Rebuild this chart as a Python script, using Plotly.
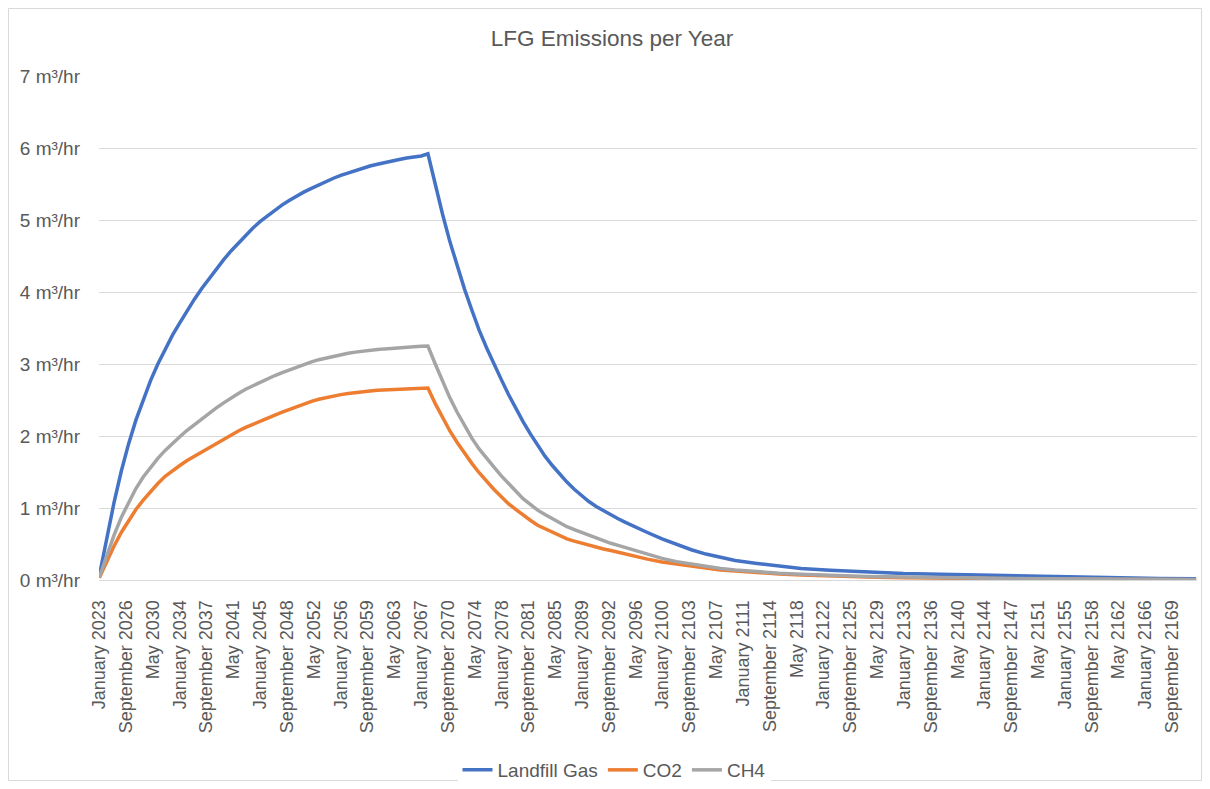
import plotly.graph_objects as go
import pandas as pd

# =============================================================================
# DATA (roughly one point per year)
# =============================================================================

rise_years = [2023, 2024, 2025, 2026, 2027, 2028, 2029, 2030, 2031, 2032,
              2033, 2034, 2035, 2036, 2037, 2038, 2039, 2040, 2041, 2042,
              2043, 2044, 2045, 2046, 2047, 2048, 2049, 2050, 2051, 2052,
              2053, 2054, 2055, 2056, 2057, 2058, 2059, 2060, 2061, 2062,
              2063, 2064, 2065, 2066, 2067]
peak_month = "2067-12"
decay_years = [2068, 2069, 2070, 2071, 2072, 2073, 2074, 2075, 2076, 2077,
               2078, 2079, 2080, 2081, 2082, 2083, 2084, 2085, 2086, 2087,
               2088, 2089, 2090, 2091, 2092, 2093, 2094, 2095,
               2097, 2099, 2101, 2103, 2105, 2107, 2109, 2112, 2115, 2118,
               2122, 2127, 2132, 2137, 2142, 2147, 2152, 2157, 2162, 2167, 2172]

landfill_gas = [0.06, 0.58, 1.07, 1.51, 1.89, 2.22, 2.51, 2.77, 3.00, 3.21,
                3.40, 3.57, 3.74, 3.90, 4.05, 4.19, 4.32, 4.45, 4.57, 4.68,
                4.79, 4.89, 4.98, 5.06, 5.14, 5.21, 5.275, 5.335, 5.39, 5.44,
                5.49, 5.535, 5.58, 5.62, 5.655, 5.69, 5.72, 5.75, 5.775, 5.80,
                5.82, 5.84, 5.86, 5.875, 5.89,
                5.92,
                5.48, 5.08, 4.70, 4.36, 4.04, 3.75, 3.47, 3.23, 3.00, 2.79,
                2.58, 2.38, 2.20, 2.03, 1.87, 1.72, 1.59, 1.47, 1.36, 1.26,
                1.17, 1.09, 1.02, 0.96, 0.90, 0.85, 0.80, 0.75,
                0.66, 0.57, 0.49, 0.42, 0.36, 0.31, 0.27, 0.23, 0.19, 0.16,
                0.135, 0.11, 0.09, 0.08, 0.07, 0.055, 0.045, 0.035, 0.03, 0.022, 0.018]

co2 = [0.03, 0.26, 0.47, 0.66, 0.83, 0.98, 1.11, 1.23, 1.34, 1.44,
       1.52, 1.59, 1.66, 1.72, 1.78, 1.84, 1.90, 1.96, 2.02, 2.07,
       2.12, 2.165, 2.21, 2.25, 2.29, 2.33, 2.37, 2.41, 2.445, 2.48,
       2.51, 2.535, 2.555, 2.575, 2.59, 2.605, 2.615, 2.625, 2.635, 2.64,
       2.645, 2.65, 2.655, 2.66, 2.662,
       2.665,
       2.45, 2.25, 2.07, 1.91, 1.76, 1.62, 1.49, 1.37, 1.26, 1.16,
       1.06, 0.98, 0.90, 0.83, 0.76, 0.71, 0.66, 0.61, 0.57, 0.54,
       0.51, 0.48, 0.455, 0.43, 0.41, 0.385, 0.36, 0.335,
       0.29, 0.25, 0.22, 0.19, 0.165, 0.14, 0.125, 0.10, 0.085, 0.07,
       0.055, 0.04, 0.03, 0.024, 0.018, 0.014, 0.011, 0.009, 0.007, 0.006, 0.005]

ch4 = [0.04, 0.34, 0.62, 0.87, 1.08, 1.27, 1.43, 1.57, 1.69, 1.80,
       1.90, 1.99, 2.08, 2.16, 2.24, 2.32, 2.39, 2.46, 2.53, 2.59,
       2.65, 2.70, 2.75, 2.80, 2.84, 2.88, 2.92, 2.96, 2.995, 3.03,
       3.06, 3.085, 3.11, 3.13, 3.15, 3.165, 3.18, 3.19, 3.20, 3.21,
       3.22, 3.227, 3.234, 3.24, 3.245,
       3.25,
       3.00, 2.76, 2.53, 2.33, 2.14, 1.97, 1.82, 1.69, 1.57, 1.45,
       1.34, 1.23, 1.13, 1.05, 0.97, 0.91, 0.85, 0.79, 0.74, 0.70,
       0.66, 0.62, 0.58, 0.55, 0.51, 0.48, 0.45, 0.42,
       0.36, 0.30, 0.255, 0.22, 0.19, 0.16, 0.14, 0.115, 0.095, 0.08,
       0.065, 0.05, 0.04, 0.03, 0.025, 0.02, 0.016, 0.013, 0.011, 0.009, 0.008]

tick_labels = ["January 2023", "September 2026", "May 2030", "January 2034", "September 2037",
               "May 2041", "January 2045", "September 2048", "May 2052", "January 2056",
               "September 2059", "May 2063", "January 2067", "September 2070", "May 2074",
               "January 2078", "September 2081", "May 2085", "January 2089", "September 2092",
               "May 2096", "January 2100", "September 2103", "May 2107", "January 2111",
               "September 2114", "May 2118", "January 2122", "September 2125", "May 2129",
               "January 2133", "September 2136", "May 2140", "January 2144", "September 2147",
               "May 2151", "January 2155", "September 2158", "May 2162", "January 2166",
               "September 2169"]

# =============================================================================
# FIGURE
# =============================================================================

dates = ([f"{y}-01-01" for y in rise_years] + [peak_month + "-01"]
         + [f"{y}-12-01" for y in decay_years])
tick_vals = pd.to_datetime(tick_labels, format="%B %Y")

FONT = "Liberation Sans, Arial, sans-serif"
TXT = "#595959"
GRID = "#d9d9d9"

# the page body has an 8px margin all round, so the figure is 16px smaller
# than the window and every window position is shifted by 8px
OFF = 8
FW, FH = 1210 - 2 * OFF, 789 - 2 * OFF
# plot area (figure pixels)
L, R, T, B = 99 - OFF, 1197 - OFF, 76 - OFF, 580 - OFF
W, H = R - L, B - T

fig = go.Figure()
for name, vals, col in [("Landfill Gas", landfill_gas, "#4472C4"),
                        ("CO2", co2, "#ED7D31"),
                        ("CH4", ch4, "#A5A5A5")]:
    fig.add_trace(go.Scatter(x=dates, y=vals, name=name, mode="lines",
                             line=dict(color=col, width=3.5)))

fig.update_layout(
    width=FW, height=FH,
    margin=dict(l=L, r=FW - R, t=T, b=FH - B, autoexpand=False),
    paper_bgcolor="white", plot_bgcolor="white",
    font=dict(family=FONT, color=TXT, size=19),
    title=dict(text="LFG Emissions per Year", x=(612 - OFF) / FW, xref="container",
               y=1 - (38 - OFF) / FH, yref="container", xanchor="center", yanchor="middle",
               font=dict(family=FONT, size=22.5, color=TXT)),
    xaxis=dict(type="date", range=["2022-12-16", "2173-01-15"], automargin=False,
               tickmode="array", tickvals=tick_vals, ticktext=tick_labels,
               tickangle=-90, showgrid=False, zeroline=False,
               showline=True, linecolor=GRID, linewidth=1,
               ticks="", ticklabelstandoff=12, tickfont=dict(size=18)),
    yaxis=dict(range=[0, 7], dtick=1, ticksuffix=" m³/hr", showgrid=True, automargin=False,
               gridcolor=GRID, gridwidth=1, zeroline=False, showline=False,
               ticks="", ticklabelstandoff=18, tickfont=dict(size=19)),
    legend=dict(orientation="h", x=(614 - OFF - L) / W, xanchor="center",
                y=(B - (770 - OFF)) / H, yanchor="middle", font=dict(size=19),
                itemwidth=30, tracegroupgap=0),
    showlegend=True,
)

# chart area border
fig.add_shape(type="rect", xref="paper", yref="paper",
              x0=(0.5 - L) / W, x1=(FW - 0.5 - L) / W,
              y0=(B - (FH - 0.5)) / H, y1=(B - 0.5) / H,
              line=dict(color=GRID, width=1), fillcolor="rgba(0,0,0,0)", layer="below")

fig.write_html("out.html")
